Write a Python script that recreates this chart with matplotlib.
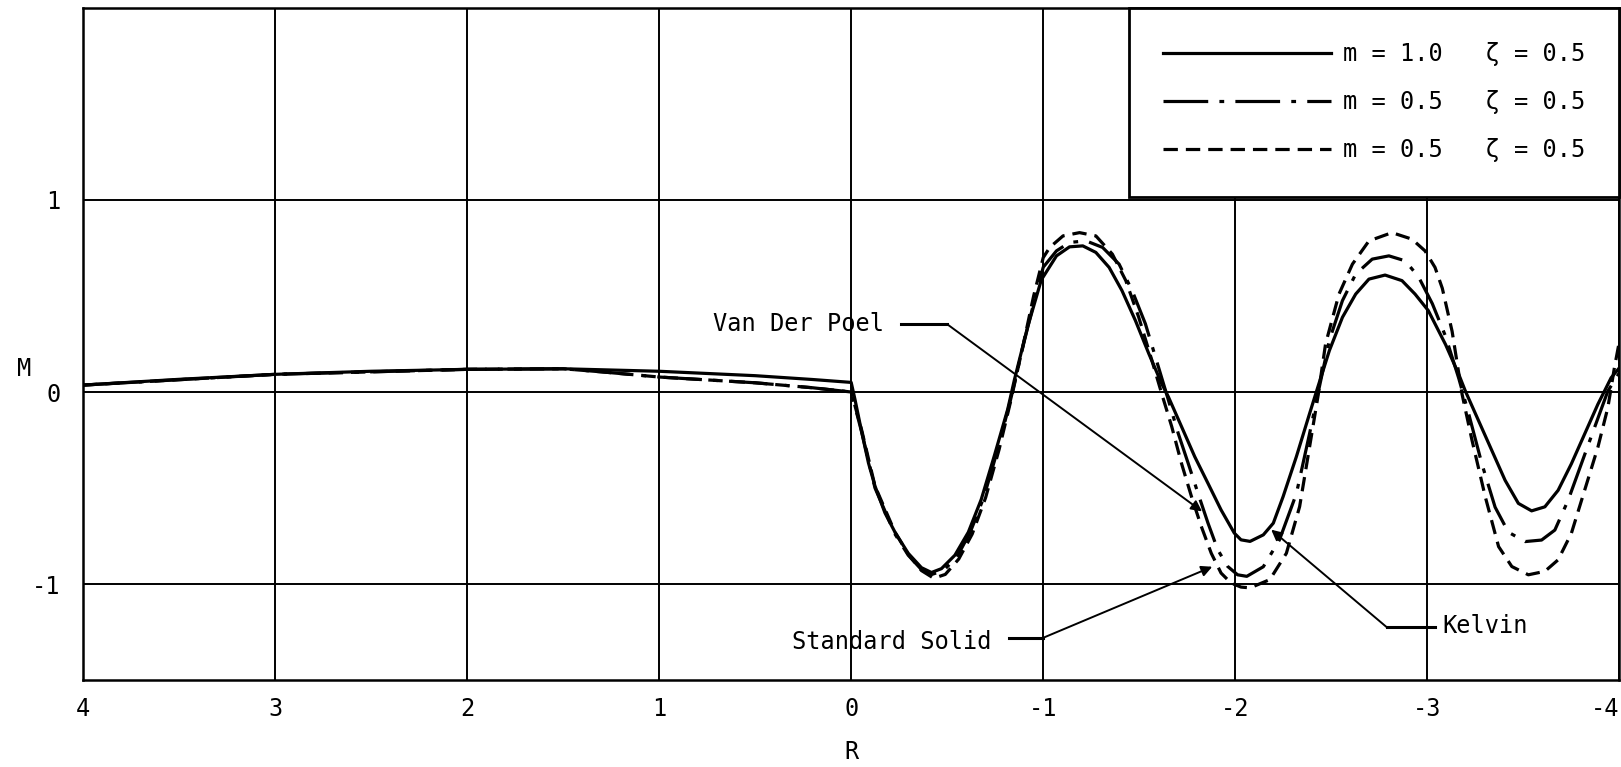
import matplotlib
matplotlib.use("Agg")
import matplotlib.pyplot as plt

# --- data (R decreasing from 4 to -4) ---
r_solid = [4.0, 3.5, 3.0, 2.5, 2.0, 1.5, 1.0, 0.5, 0.2, 0.0,
           -0.02, -0.055, -0.09, -0.124, -0.176, -0.228, -0.297, -0.366, -0.418, -0.47,
           -0.54, -0.61, -0.677, -0.746, -0.815, -0.85, -0.919, -0.99, -1.069, -1.137,
           -1.206, -1.274, -1.343, -1.41, -1.48, -1.55, -1.617, -1.652, -1.72, -1.789,
           -1.858, -1.926, -1.995, -2.03, -2.077, -2.146, -2.198, -2.249, -2.318, -2.387,
           -2.43, -2.49, -2.558, -2.627, -2.696, -2.78, -2.868, -2.936, -3.005, -3.095,
           -3.164, -3.198, -3.267, -3.336, -3.405, -3.474, -3.543, -3.612, -3.681, -3.75,
           -3.819, -3.888, -3.957, -4.0]
m_solid = [0.036, 0.066, 0.092, 0.108, 0.118, 0.121, 0.108, 0.085, 0.065, 0.05,
           -0.04, -0.21, -0.37, -0.49, -0.63, -0.73, -0.84, -0.915, -0.94, -0.92,
           -0.85, -0.73, -0.56, -0.33, -0.09, 0.064, 0.34, 0.584, 0.709, 0.756,
           0.761, 0.727, 0.649, 0.528, 0.372, 0.199, 0.043, -0.026, -0.18, -0.337,
           -0.476, -0.614, -0.735, -0.77, -0.778, -0.744, -0.683, -0.545, -0.337, -0.112,
           0.026, 0.216, 0.389, 0.51, 0.588, 0.609, 0.58, 0.51, 0.424, 0.247,
           0.091, 0.005, -0.15, -0.305, -0.46, -0.58, -0.619, -0.598, -0.512, -0.374,
           -0.219, -0.064, 0.074, 0.126]

r_dashdot = [4.0, 3.0, 2.0, 1.5, 1.3, 1.0, 0.5, 0.2, 0.0,
             -0.055, -0.124, -0.228, -0.297, -0.366, -0.42, -0.48, -0.55, -0.62, -0.69,
             -0.76, -0.83, -0.9, -0.96, -1.0, -1.069, -1.137, -1.223, -1.309, -1.395,
             -1.463, -1.532, -1.6, -1.652, -1.703, -1.755, -1.806, -1.858, -1.909, -1.96,
             -2.012, -2.06, -2.146, -2.23, -2.318, -2.387, -2.43, -2.49, -2.558, -2.627,
             -2.713, -2.8, -2.885, -2.954, -3.026, -3.095, -3.164, -3.216, -3.284, -3.353,
             -3.422, -3.509, -3.595, -3.664, -3.733, -3.802, -3.871, -3.94, -4.0]
m_dashdot = [0.036, 0.092, 0.118, 0.121, 0.105, 0.078, 0.048, 0.022, 0.0,
             -0.21, -0.50, -0.74, -0.85, -0.925, -0.95, -0.93, -0.86, -0.73, -0.55,
             -0.31, -0.04, 0.26, 0.5, 0.65, 0.735, 0.779, 0.787, 0.753, 0.666,
             0.528, 0.355, 0.13, -0.043, -0.216, -0.372, -0.528, -0.683, -0.822, -0.908,
             -0.952, -0.96, -0.91, -0.77, -0.53, -0.216, -0.01, 0.27, 0.476, 0.614,
             0.692, 0.709, 0.683, 0.60, 0.46, 0.29, 0.07, -0.116, -0.374, -0.60,
             -0.73, -0.779, -0.771, -0.719, -0.564, -0.374, -0.184, 0.005, 0.10]

r_dashed = [4.0, 3.0, 2.0, 1.5, 1.3, 1.0, 0.5, 0.2, 0.0,
            -0.055, -0.124, -0.228, -0.297, -0.366, -0.43, -0.49, -0.56, -0.63, -0.70,
            -0.77, -0.83, -0.89, -0.95, -1.0, -1.034, -1.103, -1.189, -1.274, -1.36,
            -1.43, -1.497, -1.566, -1.617, -1.669, -1.72, -1.772, -1.823, -1.875, -1.926,
            -1.978, -2.03, -2.077, -2.18, -2.266, -2.335, -2.387, -2.43, -2.47, -2.54,
            -2.61, -2.696, -2.816, -2.92, -2.988, -3.04, -3.078, -3.129, -3.181, -3.233,
            -3.302, -3.371, -3.44, -3.526, -3.612, -3.681, -3.75, -3.819, -3.888, -3.94,
            -3.974, -4.0]
m_dashed = [0.036, 0.092, 0.118, 0.121, 0.105, 0.078, 0.048, 0.022, 0.0,
            -0.20, -0.49, -0.73, -0.845, -0.93, -0.97, -0.95, -0.87, -0.74, -0.55,
            -0.30, -0.05, 0.22, 0.50, 0.70, 0.753, 0.813, 0.83, 0.813, 0.718,
            0.58, 0.39, 0.164, -0.009, -0.18, -0.372, -0.545, -0.70, -0.84, -0.943,
            -0.995, -1.016, -1.02, -0.977, -0.84, -0.597, -0.285, -0.026, 0.25, 0.51,
            0.666, 0.787, 0.83, 0.796, 0.735, 0.649, 0.54, 0.316, -0.012, -0.253,
            -0.547, -0.805, -0.909, -0.952, -0.934, -0.874, -0.736, -0.512, -0.288, -0.081,
            0.126, 0.264]

labels = ["m = 1.0   \u03b6 = 0.5", "m = 0.5   \u03b6 = 0.5", "m = 0.5   \u03b6 = 0.5"]

x_ticks = [4, 3, 2, 1, 0, -1, -2, -3, -4]
y_ticks = [1, 0, -1]

# leader lines: (text, text pos, horizontal start, corner, arrow tip)
notes = [
    ("Van Der Poel", (0.82, 0.353), (-0.26, 0.353), (-0.50, 0.353), (-1.827, -0.622)),
    ("Standard Solid", (0.48, -1.30), (-0.82, -1.28), (-1.0, -1.28), (-1.88, -0.91)),
    ("Kelvin", (-3.08, -1.22), (-3.04, -1.226), (-2.79, -1.226), (-2.187, -0.717)),
]

FONT = "DejaVu Sans Mono"
plt.rcParams["font.family"] = FONT

fig = plt.figure(figsize=(16.21, 7.67), dpi=100)
ax = fig.add_axes([0.0512, 0.1134, 0.9478, 0.8762])

lw = 2.3
ax.plot(r_solid, m_solid, color="black", lw=lw, label=labels[0], zorder=3)
ax.plot(r_dashdot, m_dashdot, color="black", lw=lw, label=labels[1],
        linestyle=(0, (14, 3.5, 1.5, 3.5)), zorder=3)
ax.plot(r_dashed, m_dashed, color="black", lw=lw, label=labels[2],
        linestyle=(0, (4.5, 2.5)), zorder=3)

ax.set_xlim(4, -4)
ax.set_ylim(-1.5, 2.0)
ax.set_xticks(x_ticks)
ax.set_xticklabels([str(v) for v in x_ticks])
ax.set_yticks(y_ticks)
ax.set_yticklabels([str(v) for v in y_ticks])
ax.tick_params(length=0, labelsize=17)
ax.tick_params(axis="x", pad=12)
ax.tick_params(axis="y", pad=16)
ax.get_xticklabels()[-1].set_ha("right")
ax.grid(True, color="black", lw=1.4)
for s in ax.spines.values():
    s.set_linewidth(1.8)

ax.set_xlabel("R", fontsize=17, labelpad=14)
ax.set_ylabel("M", fontsize=17, rotation=0)
ax.yaxis.set_label_coords(-0.038, 0.445)

for text, tpos, hstart, corner, tip in notes:
    ha = "right" if text != "Kelvin" else "left"
    tx = tpos[0] if text == "Kelvin" else hstart[0] + 0.09
    ax.text(tx, tpos[1], text, fontsize=17, ha=ha, va="center", zorder=5)
    ax.plot([hstart[0], corner[0]], [hstart[1], corner[1]], color="black", lw=2.2, zorder=4)
    ax.annotate("", xy=tip, xytext=corner,
                arrowprops=dict(arrowstyle="-|>", color="black", lw=1.4,
                                mutation_scale=16, shrinkA=0, shrinkB=0), zorder=4)

leg = ax.legend(loc="upper right", bbox_to_anchor=(1.0, 1.0), borderaxespad=0,
                fontsize=17, handlelength=7.1, handletextpad=0.5, labelspacing=1.02,
                borderpad=1.45, fancybox=False, framealpha=1, edgecolor="black")
leg.get_frame().set_linewidth(2.0)

fig.savefig("out.png", dpi=100)
